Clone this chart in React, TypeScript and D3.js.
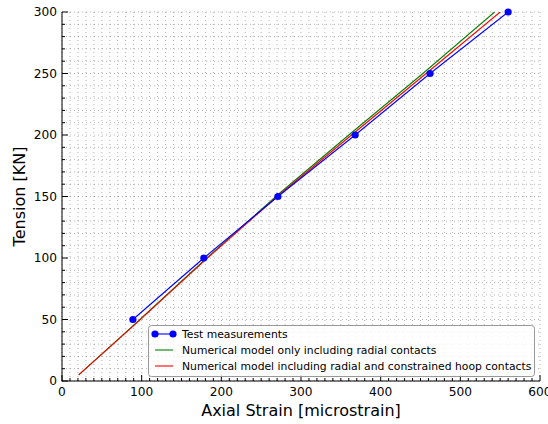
import React from "react";
import * as d3 from "d3";

const testStrain = [89, 178, 271, 368, 462, 560];
const testTension = [50, 100, 150, 200, 250, 300];

const radialStrain = [21, 90, 180, 272, 360, 453, 543];
const radialTension = [5, 45.5, 99, 152, 200, 250, 300];

const hoopStrain = [21, 90, 180, 272, 363.5, 457, 550];
const hoopTension = [5, 45, 98.5, 151, 200, 250, 300];

const xTicks = [0, 100, 200, 300, 400, 500, 600];
const yTicks = [0, 50, 100, 150, 200, 250, 300];

const legendLabels = [
  "Test measurements",
  "Numerical model only including radial contacts",
  "Numerical model including radial and constrained hoop contacts",
];

const W = 548;
const H = 424;
const left = 62;
const right = 540;
const top = 12;
const bottom = 381;

export default function App() {
  const x = d3.scaleLinear().domain([0, 600]).range([left, right]);
  const y = d3.scaleLinear().domain([0, 300]).range([bottom, top]);
  const xMinor = d3.range(0, 601, 10);
  const yMinor = d3.range(0, 301, 10);
  const line = d3
    .line<[number, number]>()
    .x((d) => x(d[0]))
    .y((d) => y(d[1]));
  const testPts = testStrain.map((v, i) => [v, testTension[i]] as [number, number]);
  const radialPts = radialStrain.map((v, i) => [v, radialTension[i]] as [number, number]);
  const hoopPts = hoopStrain.map((v, i) => [v, hoopTension[i]] as [number, number]);
  const font = "DejaVu Sans, sans-serif";
  const colors = ["#0000ff", "#008000", "#ff0000"];
  const legY = [334, 350, 366];
  return (
    <svg
      width={W}
      height={H}
      style={{ position: "absolute", left: 0, top: 0, background: "#fff" }}
      fontFamily={font}
    >
      <defs>
        <clipPath id="plot">
          <rect x={left} y={top} width={right - left} height={bottom - top} />
        </clipPath>
      </defs>
      <g stroke="#000" strokeOpacity={0.3} strokeWidth={1} strokeDasharray="1,3">
        {xMinor.map((v) => (
          <line key={"gx" + v} x1={x(v)} x2={x(v)} y1={top} y2={bottom} />
        ))}
        {yMinor.map((v) => (
          <line key={"gy" + v} x1={left} x2={right} y1={y(v)} y2={y(v)} />
        ))}
      </g>
      <g clipPath="url(#plot)" fill="none" strokeWidth={1.1}>
        <path d={line(radialPts) || ""} stroke={colors[1]} />
        <path d={line(hoopPts) || ""} stroke={colors[2]} />
        <path d={line(testPts) || ""} stroke={colors[0]} />
      </g>
      <g fill={colors[0]}>
        {testPts.map((p, i) => (
          <circle key={i} cx={x(p[0])} cy={y(p[1])} r={3.6} />
        ))}
      </g>
      {/* spines */}
      <line x1={left} x2={left} y1={top} y2={bottom + 0.5} stroke="#000" />
      <line x1={left} x2={right} y1={bottom} y2={bottom} stroke="#000" />
      {/* ticks */}
      <g stroke="#000" strokeWidth={1}>
        {xMinor.map((v) => (
          <line key={"tx" + v} x1={x(v)} x2={x(v)} y1={bottom} y2={bottom - (v % 100 === 0 ? 6 : 3)} />
        ))}
        {yMinor.map((v) => (
          <line key={"ty" + v} x1={left} x2={left + (v % 50 === 0 ? 6 : 3)} y1={y(v)} y2={y(v)} />
        ))}
      </g>
      <g fontSize={12.2} fill="#000">
        {xTicks.map((v) => (
          <text key={"lx" + v} x={x(v)} y={396} textAnchor="middle">
            {v}
          </text>
        ))}
        {yTicks.map((v) => (
          <text key={"ly" + v} x={57} y={y(v) + 4.4} textAnchor="end">
            {v}
          </text>
        ))}
      </g>
      <text x={(left + right) / 2} y={416} fontSize={16} textAnchor="middle">
        Axial Strain [microstrain]
      </text>
      <text
        transform={`translate(25,${(top + bottom) / 2}) rotate(-90)`}
        fontSize={16}
        textAnchor="middle"
      >
        Tension [KN]
      </text>
      {/* legend */}
      <rect
        x={148.5}
        y={325.5}
        width={386}
        height={51}
        rx={3}
        fill="#fff"
        fillOpacity={0.8}
        stroke="#999"
        strokeWidth={1}
      />
      {legendLabels.map((t, i) => (
        <g key={t}>
          <line x1={155} x2={173} y1={legY[i]} y2={legY[i]} stroke={colors[i]} strokeWidth={1.1} />
          {i === 0 && (
            <g fill={colors[0]}>
              <circle cx={155} cy={legY[i]} r={3.6} />
              <circle cx={173} cy={legY[i]} r={3.6} />
            </g>
          )}
          <text x={182} y={legY[i] + 4} fontSize={10.8} fill="#000">
            {t}
          </text>
        </g>
      ))}
    </svg>
  );
}
